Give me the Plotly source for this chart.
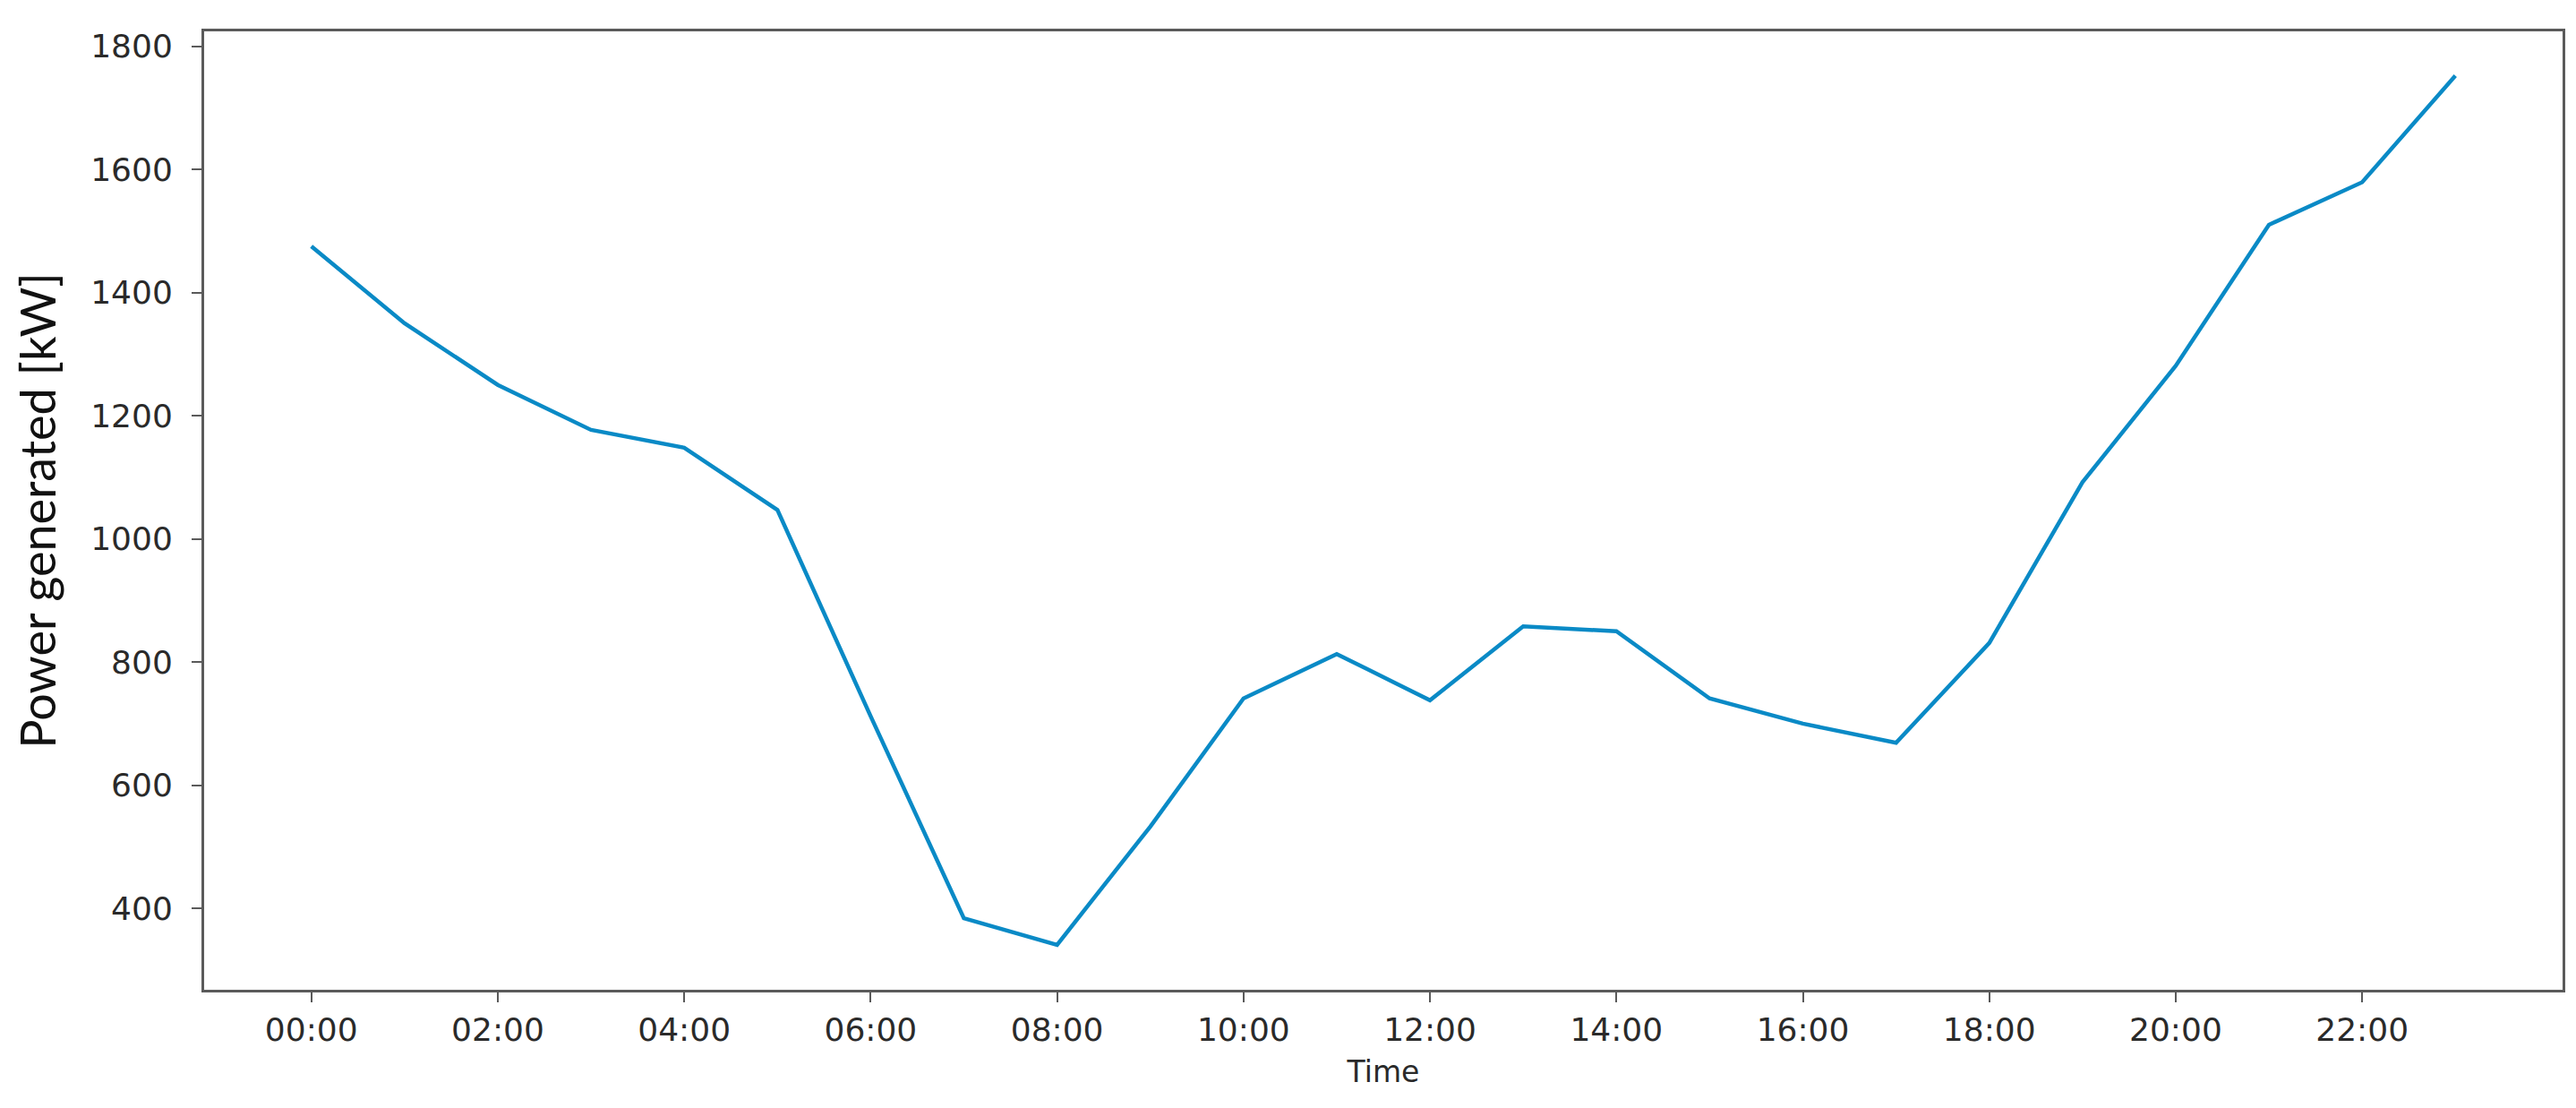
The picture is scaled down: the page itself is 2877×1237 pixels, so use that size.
import plotly.graph_objects as go

hours = list(range(24))
time_labels = ["%02d:00" % h for h in hours]
power_kw = [1475, 1350, 1250, 1177, 1148, 1047, 712, 384, 341, 533,
            741, 813, 738, 858, 850, 741, 700, 669, 831, 1092,
            1281, 1510, 1579, 1752]
tick_hours = hours[::2]
tick_text = time_labels[::2]
y_ticks = [400, 600, 800, 1000, 1200, 1400, 1600, 1800]

fig = go.Figure()
fig.add_trace(go.Scatter(
    x=hours, y=power_kw, mode="lines",
    line=dict(color="#0a8ac6", width=4.5),
    showlegend=False,
))

axis_common = dict(
    showline=True, mirror=True, linecolor="#5a5a5a", linewidth=3,
    showgrid=False, zeroline=False,
    ticks="outside", ticklen=11, tickwidth=2, tickcolor="#5a5a5a",
    tickfont=dict(family="DejaVu Sans", size=36, color="#2a2a2a"),
)

fig.update_layout(
    width=2877, height=1237,
    margin=dict(l=220, r=23, t=27, b=140),
    paper_bgcolor="white", plot_bgcolor="white",
    xaxis=dict(
        range=[-1.15, 24.15], tickvals=tick_hours, ticktext=tick_text,
        title=dict(text="Time", font=dict(family="DejaVu Sans", size=33, color="#2a2a2a"), standoff=16),
        **axis_common,
    ),
    yaxis=dict(
        range=[268, 1824], tickvals=y_ticks, ticklabelstandoff=14,
        title=dict(text="Power generated [kW]", font=dict(family="Lato", size=54, color="#111111"), standoff=22),
        **axis_common,
    ),
)

fig.write_html("out.html")
